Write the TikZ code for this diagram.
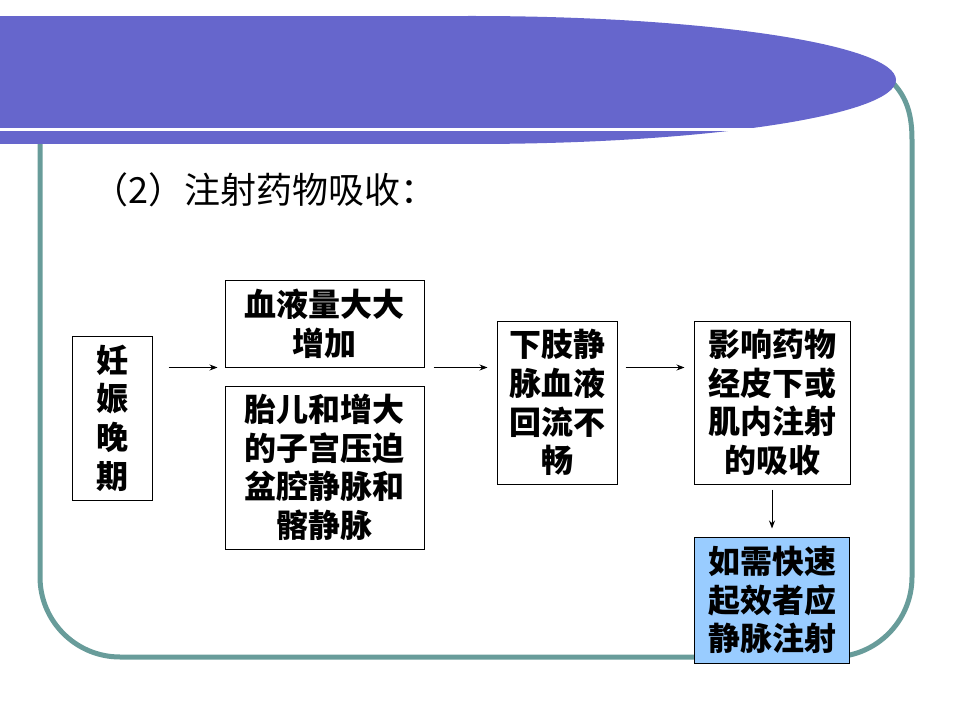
\documentclass[tikz,border=0pt]{standalone}
\usepackage{fontspec}
\setmainfont{Noto Sans CJK SC}
\usetikzlibrary{positioning,arrows.meta}
\definecolor{banner}{RGB}{102,102,204}
\definecolor{frame}{RGB}{104,156,154}
\definecolor{fast}{RGB}{153,204,255}

\begin{document}
\begin{tikzpicture}[x=0.75pt, y=-0.75pt, >={Stealth[length=6pt,width=4.5pt]},
  box/.style = {draw, line width=0.75pt, inner sep=0pt, align=center, font=\fontsize{24}{29}\selectfont\bfseries},
  link/.style = {->, line width=0.75pt}]
\useasboundingbox (0,0) rectangle (960,720);
% frame and banner
\draw[frame, line width=3.75pt] (893,83) .. controls (907,98) and (912,115) .. (912,140) [rounded corners=60pt] -- (912,657) -- (40,657) -- (40,140);
\fill[banner] (0,16) rectangle (472,144);
\fill[banner] (472,80) ellipse [x radius=318pt, y radius=48pt];
\draw[white, line width=2.25pt] (0,129.5) -- (800,129.5);
\node[anchor=west, font=\fontsize{27}{32}\selectfont] (title) at (88,190) {（2）注射药物吸收：};
% boxes
\node[box, minimum width=60pt, minimum height=123pt] (A) at (112,418) {妊\\娠\\晚\\期};
\node[box, minimum width=149.25pt, minimum height=64.5pt] (B1) at (324.5,324) {血液量大大\\增加};
\node[box, minimum width=149.25pt, minimum height=122.25pt] (B2) [below=13.5pt of B1] {胎儿和增大\\的子宫压迫\\盆腔静脉和\\髂静脉};
\node[box, minimum width=90pt, minimum height=122.25pt] (C) at (557,402.5) {下肢静\\脉血液\\回流不\\畅};
\node[box, minimum width=117pt, minimum height=122.25pt] (D) [right=57pt of C] {影响药物\\经皮下或\\肌内注射\\的吸收};
\node[box, fill=fast, minimum width=116.25pt, minimum height=94.5pt] (E) [below=39pt of D] {如需快速\\起效者应\\静脉注射};
% arrows
\draw[link, shorten <=12pt, shorten >=5.25pt] (A.east |- B1.south) -- (B1.south west);
\draw[link, shorten <=6.75pt, shorten >=6.75pt] (B1.south east) -- (C.west |- B1.south);
\draw[link, shorten <=6pt, shorten >=6.75pt] (C.east |- B1.south) -- (D.west |- B1.south);
\draw[link, shorten <=3.75pt, shorten >=6pt] (D.south) -- (D.south |- E.north);
\end{tikzpicture}
\end{document}
